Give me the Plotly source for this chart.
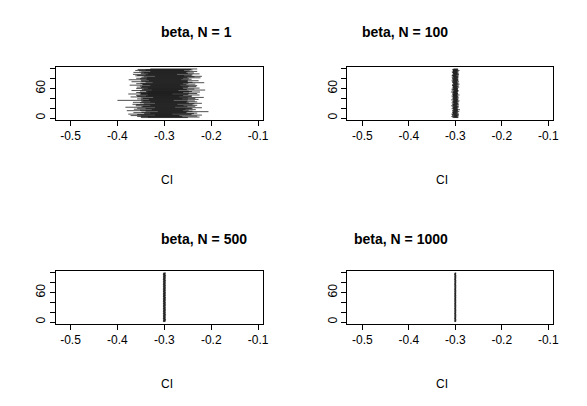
import plotly.graph_objects as go

titles = ["beta, N = 1", "beta, N = 100", "beta, N = 500", "beta, N = 1000"]
x_ticks = [-0.5, -0.4, -0.3, -0.2, -0.1]
y_ticks = [0, 20, 40, 60, 80, 100]
y_labels = ["0", "", "", "60", "", ""]

c1 = [-0.30,-0.28,-0.31,-0.29,-0.32,-0.27,-0.30,-0.33,-0.29,-0.28,
      -0.31,-0.30,-0.26,-0.29,-0.32,-0.30,-0.28,-0.31,-0.29,-0.30,
      -0.27,-0.33,-0.30,-0.29,-0.31,-0.28,-0.30,-0.32,-0.29,-0.27,
      -0.30,-0.31,-0.28,-0.30,-0.29,-0.34,-0.30,-0.28,-0.31,-0.29,
      -0.30,-0.27,-0.32,-0.30,-0.29,-0.31,-0.28,-0.30,-0.33,-0.29,
      -0.30,-0.31,-0.28,-0.29,-0.30,-0.32,-0.27,-0.30,-0.29,-0.31,
      -0.28,-0.30,-0.31,-0.29,-0.30,-0.28,-0.32,-0.30,-0.29,-0.31,
      -0.30,-0.27,-0.29,-0.31,-0.30,-0.28,-0.30,-0.32,-0.29,-0.30,
      -0.31,-0.28,-0.30,-0.29,-0.27,-0.31,-0.30,-0.29,-0.32,-0.28,
      -0.30,-0.29,-0.31,-0.30,-0.28,-0.30,-0.31,-0.29,-0.30,-0.28]
h1 = [0.05,0.055,0.048,0.06,0.052,0.05,0.058,0.047,0.053,0.05,
      0.056,0.049,0.054,0.05,0.06,0.052,0.047,0.055,0.05,0.058,
      0.05,0.053,0.049,0.056,0.051,0.05,0.06,0.048,0.054,0.05,
      0.052,0.057,0.05,0.049,0.055,0.06,0.05,0.053,0.048,0.056,
      0.05,0.054,0.052,0.058,0.049,0.05,0.055,0.051,0.047,0.06,
      0.053,0.05,0.056,0.049,0.052,0.05,0.057,0.048,0.054,0.05,
      0.055,0.05,0.049,0.058,0.052,0.05,0.054,0.047,0.056,0.05,
      0.051,0.055,0.05,0.06,0.049,0.053,0.05,0.056,0.048,0.052,
      0.05,0.057,0.049,0.054,0.05,0.052,0.058,0.05,0.047,0.055,
      0.05,0.053,0.056,0.049,0.05,0.054,0.052,0.05,0.057,0.05]
c2 = [-0.300,-0.298,-0.302,-0.299,-0.301,-0.297,-0.300,-0.303,-0.299,-0.301,
      -0.300,-0.302,-0.298,-0.300,-0.301,-0.299,-0.297,-0.300,-0.302,-0.300,
      -0.299,-0.301,-0.300,-0.298,-0.303,-0.300,-0.299,-0.301,-0.300,-0.298,
      -0.302,-0.300,-0.299,-0.301,-0.297,-0.300,-0.302,-0.299,-0.300,-0.301,
      -0.298,-0.300,-0.301,-0.299,-0.302,-0.300,-0.298,-0.301,-0.300,-0.299,
      -0.301,-0.300,-0.303,-0.299,-0.300,-0.298,-0.301,-0.300,-0.302,-0.299,
      -0.300,-0.301,-0.298,-0.300,-0.299,-0.302,-0.300,-0.301,-0.297,-0.300,
      -0.299,-0.301,-0.300,-0.302,-0.298,-0.300,-0.301,-0.299,-0.300,-0.302,
      -0.300,-0.298,-0.301,-0.300,-0.299,-0.303,-0.300,-0.301,-0.298,-0.300,
      -0.299,-0.301,-0.300,-0.302,-0.299,-0.300,-0.298,-0.301,-0.300,-0.299]
h2 = [0.006,0.005,0.0065,0.0055,0.006,0.005,0.007,0.0055,0.006,0.005]*10
c3 = [-0.3000,-0.3010,-0.2995,-0.3005,-0.2990,-0.3000,-0.3008,-0.2998,-0.3003,-0.2993]*10
h3 = [0.0025,0.0022,0.0027,0.0024,0.0026,0.0023,0.0025,0.0028,0.0022,0.0025]*10
c4 = [-0.3000,-0.3005,-0.2997,-0.3003,-0.2995,-0.3001,-0.3006,-0.2998,-0.3002,-0.2996]*10
h4 = [0.0018,0.0016,0.0019,0.0017,0.0018,0.0016,0.0020,0.0017,0.0018,0.0016]*10

panels = [(c1, h1), (c2, h2), (c3, h3), (c4, h4)]

fig = go.Figure()
W, H = 587, 406
xdoms = [(48/W, 258/W), (343/W, 551/W)]
ydoms = [((H-112)/H, (H-59)/H), ((H-316)/H, (H-263)/H)]
title_y = [24, 231]
ci_y = [172, 376]
font = dict(family="Liberation Sans, Arial", size=12, color="black")
for k, (c, h) in enumerate(panels):
    xs, ys = [], []
    for i, (ci, hi) in enumerate(zip(c, h)):
        xs += [ci - hi, ci + hi, None]
        ys += [i + 1, i + 1, None]
    ax = "" if k == 0 else str(k + 1)
    fig.add_trace(go.Scatter(x=xs, y=ys, mode="lines", line=dict(color="black", width=0.7),
                             xaxis="x" + ax, yaxis="y" + ax, showlegend=False))
    col, row = k % 2, k // 2
    common = dict(showline=True, mirror=True, linecolor="black", linewidth=1, ticks="outside",
                  ticklen=5, tickcolor="black", showgrid=False, zeroline=False, tickfont=font)
    fig.layout["xaxis" + ax] = dict(domain=xdoms[col], range=[-0.532, -0.089], tickvals=x_ticks,
                                    ticktext=[str(v) for v in x_ticks], anchor="y" + ax, **common)
    fig.layout["yaxis" + ax] = dict(domain=ydoms[row], range=[-4, 104], tickvals=y_ticks,
                                    ticktext=y_labels, tickangle=-90, anchor="x" + ax, **common)
    xm = (xdoms[col][0] + xdoms[col][1]) / 2
    fig.add_annotation(text="<b>" + titles[k] + "</b>", x=xm, y=1 - title_y[row]/H, xref="paper",
                       yref="paper", yanchor="middle", showarrow=False,
                       font=dict(family="Liberation Sans, Arial", size=14, color="black"))
    fig.add_annotation(text="CI", x=xm, y=1 - ci_y[row]/H, xref="paper", yref="paper",
                       yanchor="middle", showarrow=False, font=font)

fig.update_layout(width=W, height=H, margin=dict(l=0, r=0, t=0, b=0),
                  plot_bgcolor="white", paper_bgcolor="white")
fig.write_html("out.html")
